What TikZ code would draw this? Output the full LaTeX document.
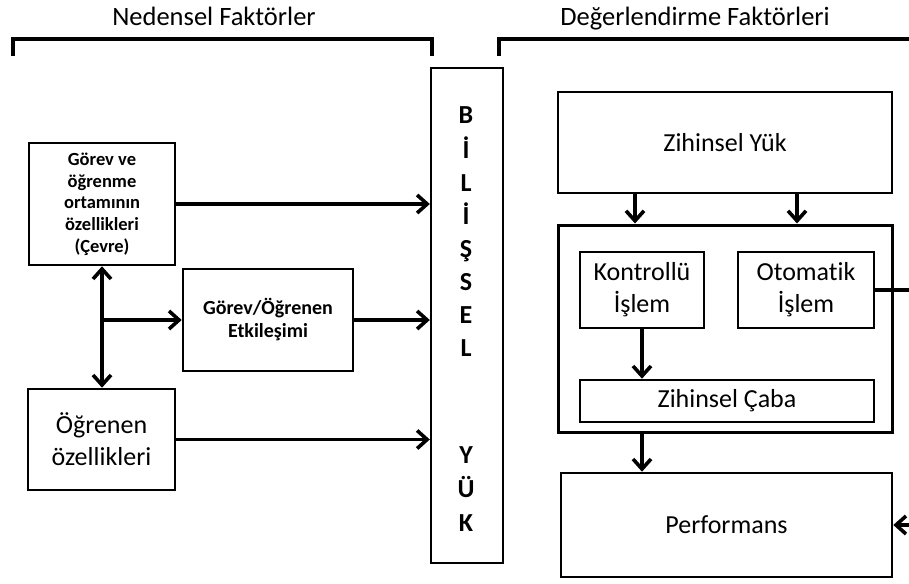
\documentclass[tikz,border=0pt]{standalone}
\usepackage{fontspec}
\setmainfont{Carlito}[Ligatures={NoCommon}]
\usetikzlibrary{arrows.meta}

\begin{document}
\begin{tikzpicture}[x=1pt,y=-1pt,
	>={Straight Barb[length=10pt,width=18pt]},
	kutu/.style={draw,line width=2.6pt,inner sep=0pt,align=center,
		font=\fontsize{26}{32}\selectfont},
	kalin/.style={font=\bfseries\fontsize{18.5}{21.7}\selectfont},
	harf/.style={anchor=base,font=\bfseries\fontsize{26}{28}\selectfont},
	baslik/.style={anchor=base,font=\fontsize{26.5}{32}\selectfont},
	ok/.style={->,line width=3.6pt},
	ayrac/.style={line width=3.6pt}]
	\useasboundingbox (0,0) rectangle (909,583);
	% basliklar
	\node[baslik] (neden) at (214,26) {Nedensel Faktörler};
	\node[baslik] (deger) at (695,26) {Değerlendirme Faktörleri};
	\draw[ayrac] (13,56) -- (13,39) -- (432,39) -- (432,56);
	\draw[ayrac] (499,56) -- (499,39) -- (909,39);
	% sol taraf
	\node[kutu,kalin,minimum width=146,minimum height=122] (cevre) at (102,204)
		{Görev ve\\öğrenme\\ortamının\\özellikleri\\(Çevre)};
	\node[kutu,kalin,font=\bfseries\fontsize{20}{23}\selectfont,
		minimum width=170,minimum height=102] (etkilesim) at (268,320)
		{Görev/Öğrenen\\Etkileşimi};
	\node[kutu,minimum width=147,minimum height=101] (ogrenen) at (101.5,439.5)
		{Öğrenen\\özellikleri};
	% bilissel yuk
	\node[kutu,line width=2.4pt,minimum width=72,minimum height=495] (bilis) at (467,315.5) {};
	\foreach \harf/\yy [count=\i] in {B/124,İ/158,L/191,İ/224,Ş/257,S/290,E/323,L/356,Y/463,Ü/497,K/531}
		\node[harf] (h\i) at (466,\yy) {\harf};
	% sag taraf
	\node[kutu,minimum width=334,minimum height=101] (zyuk) at (725,142.5) {Zihinsel Yük};
	\node[kutu,line width=3pt,minimum width=334,minimum height=207] (islem) at (725,328.5) {};
	\node[kutu,minimum width=124,minimum height=76] (kontrol) at (642,290) {Kontrollü\\İşlem};
	\node[kutu,minimum width=136,minimum height=76] (otomatik) at (806,290) {Otomatik\\İşlem};
	\node[kutu,minimum width=294,minimum height=42] (caba) at (727,401) {Zihinsel Çaba};
	\node[kutu,minimum width=331,minimum height=104] (perf) at (726.5,525) {Performans};
	\coordinate (k1) at (635,0);
	\coordinate (k2) at (797,0);
	\coordinate (kenar) at (909,0);
	% oklar
	\draw[ok] (cevre.east) -- (cevre.east -| bilis.west);
	\draw[ok] (etkilesim.east) -- (etkilesim.east -| bilis.west);
	\draw[ok] (ogrenen.east) -- (ogrenen.east -| bilis.west);
	\draw[ok,<->] (cevre.south) -- (cevre.south |- ogrenen.north);
	\draw[ok] (cevre.south |- etkilesim.west) -- (etkilesim.west);
	\draw[ok] (k1 |- zyuk.south) -- (k1 |- islem.north);
	\draw[ok] (k2 |- zyuk.south) -- (k2 |- islem.north);
	\draw[ok] (kontrol.south) -- (kontrol.south |- caba.north);
	\draw[ok] (kontrol.south |- islem.south) -- (kontrol.south |- perf.north);
	\draw[line width=3.6pt] (otomatik.east) -- (otomatik.east -| kenar);
	\draw[ok] (perf.east -| kenar) -- (perf.east);
\end{tikzpicture}
\end{document}
